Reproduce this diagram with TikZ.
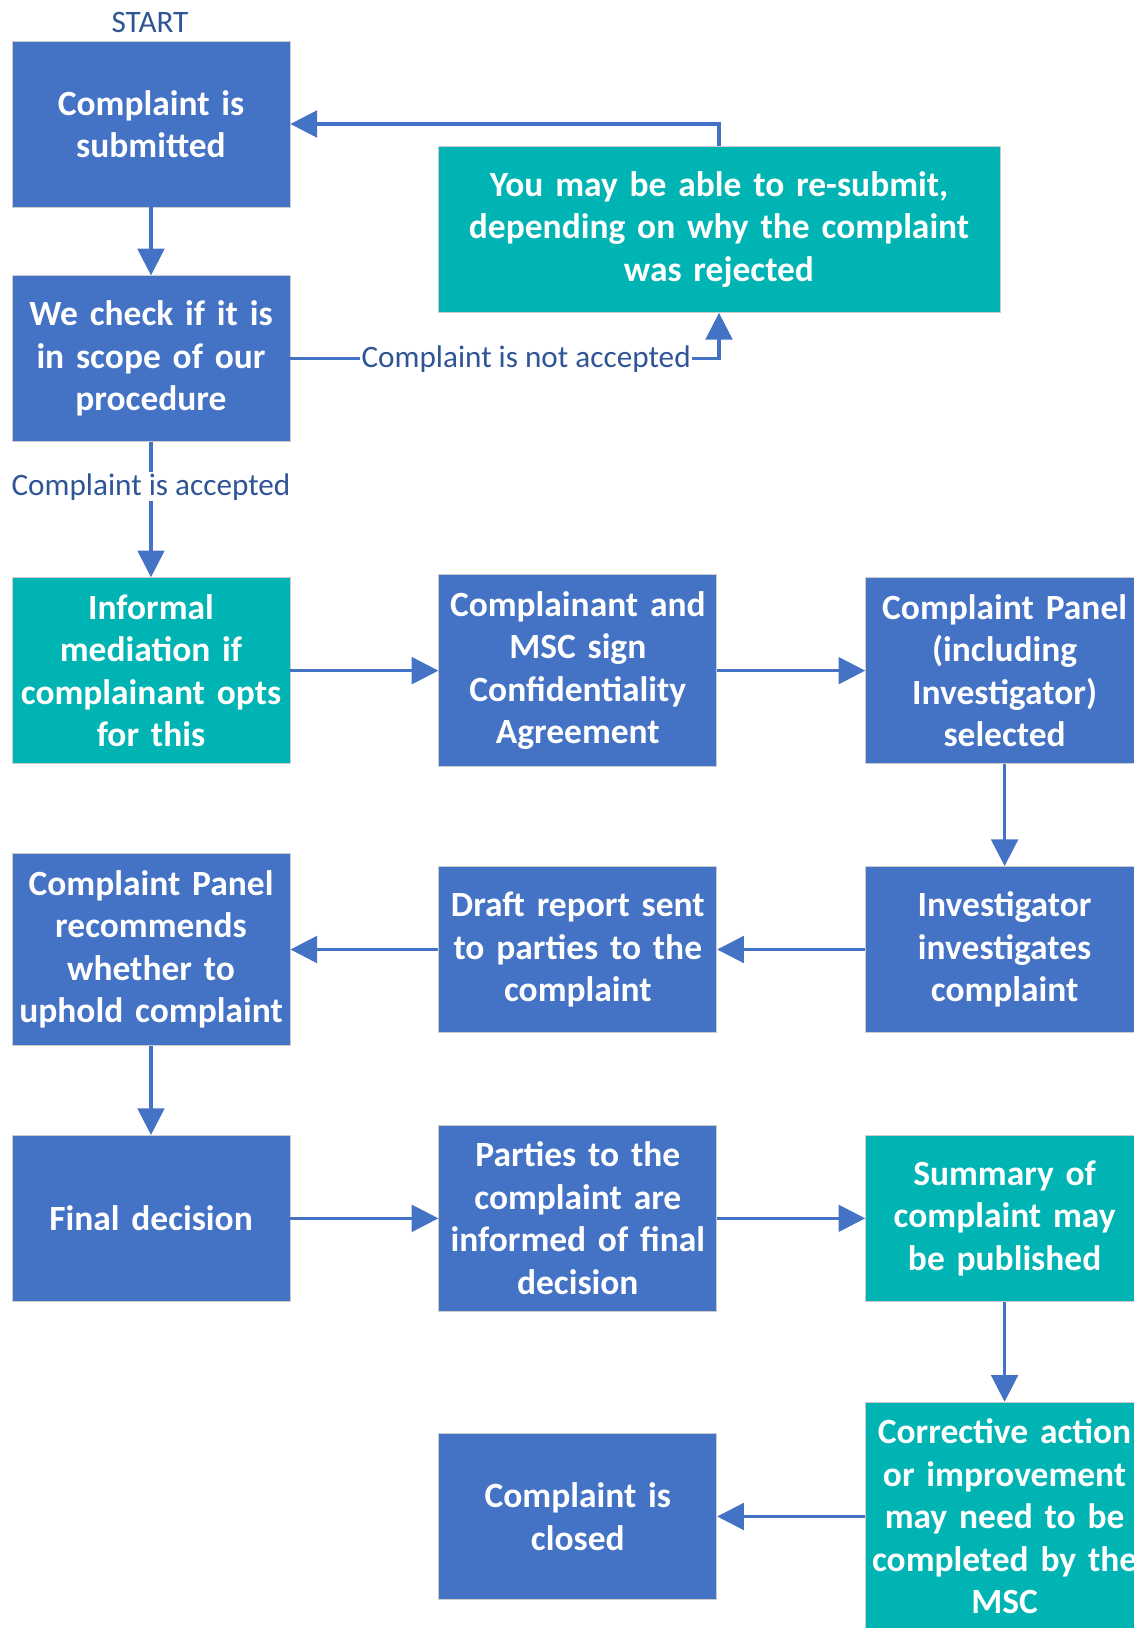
\documentclass[tikz,border=0pt]{standalone}
\usepackage{fontspec}
\setmainfont{Carlito}
\usetikzlibrary{positioning,arrows.meta}
\definecolor{boxblue}{RGB}{68,114,196}
\definecolor{boxteal}{RGB}{0,180,180}
\definecolor{labelblue}{RGB}{47,85,151}

\begin{document}
\begin{tikzpicture}[x=0.75pt,y=-0.75pt,
  node distance=111pt,
  stepbox/.style={draw=black!20, line width=0.6pt, fill=boxblue, text=white,
    font=\bfseries\fontsize{26.6}{31.9}\selectfont,
    minimum width=208.5pt, minimum height=124.5pt, text width=206pt,
    align=center, inner xsep=1.25pt, inner ysep=12.5pt},
  optbox/.style={stepbox, fill=boxteal},
  flow/.style={draw=boxblue, line width=2.3pt, -{Triangle[length=20pt,width=20pt]}},
  edgelabel/.style={fill=white, text=labelblue, font=\fontsize{23.4}{26}\selectfont, inner sep=1pt}]
  \useasboundingbox (0,0) rectangle (1133,1628);
  % first column
  \node[stepbox] (sub) at (151,124) {Complaint is\\submitted};
  \node[edgelabel] (start) at (150,22) {START};
  \node[stepbox, below=51pt of sub] (scope) {We check if it is\\in scope of our\\procedure};
  \node[optbox, minimum width=421.5pt, text width=419pt] (resubmit) at (719,229.5)
    {You may be able to re-submit,\\depending on why the complaint\\was rejected};
  \node[optbox, below=101.25pt of scope] (informal) {Informal\\mediation if\\complainant opts\\for this};
  \node[stepbox, below=67pt of informal] (recommend) {Complaint Panel\\recommends\\whether to\\uphold complaint};
  \node[stepbox, below=67pt of recommend] (final) {Final decision};
  % other columns
  \node[stepbox, right=of informal] (confid) {Complainant and\\MSC sign\\Confidentiality\\Agreement};
  \node[stepbox, right=of confid] (panel) {Complaint Panel\\(including\\Investigator)\\selected};
  \node[stepbox, below=76.5pt of panel] (investigate) {Investigator\\investigates\\complaint};
  \node[stepbox, right=of recommend] (draft) {Draft report sent\\to parties to the\\complaint};
  \node[stepbox, right=of final] (parties) {Parties to the\\complaint are\\informed of final\\decision};
  \node[optbox, right=of parties] (summary) {Summary of\\complaint may\\be published};
  \node[optbox, below=75pt of summary] (corrective) {Corrective action\\or improvement\\may need to be\\\mbox{completed by the}\\MSC};
  \node[stepbox, left=of corrective] (closed) {Complaint is\\closed};

  \draw[flow] (sub) -- (scope);
  \draw[flow] (scope) -- node[edgelabel, pos=0.33] {Complaint is accepted} (informal);
  \draw[flow] (scope.east) -| node[edgelabel, pos=0.275] {Complaint is not accepted} (resubmit.south);
  \draw[flow] (resubmit.north) |- (sub.east);
  \draw[flow] (informal) -- (confid);
  \draw[flow] (confid) -- (panel);
  \draw[flow] (panel) -- (investigate);
  \draw[flow] (investigate.west) -- (investigate.west -| draft.east);
  \draw[flow] (draft) -- (recommend);
  \draw[flow] (recommend) -- (final);
  \draw[flow] (final) -- (parties);
  \draw[flow] (parties) -- (summary);
  \draw[flow] (summary) -- (corrective);
  \draw[flow] (corrective.west) -- (corrective.west -| closed.east);
\end{tikzpicture}
\end{document}
